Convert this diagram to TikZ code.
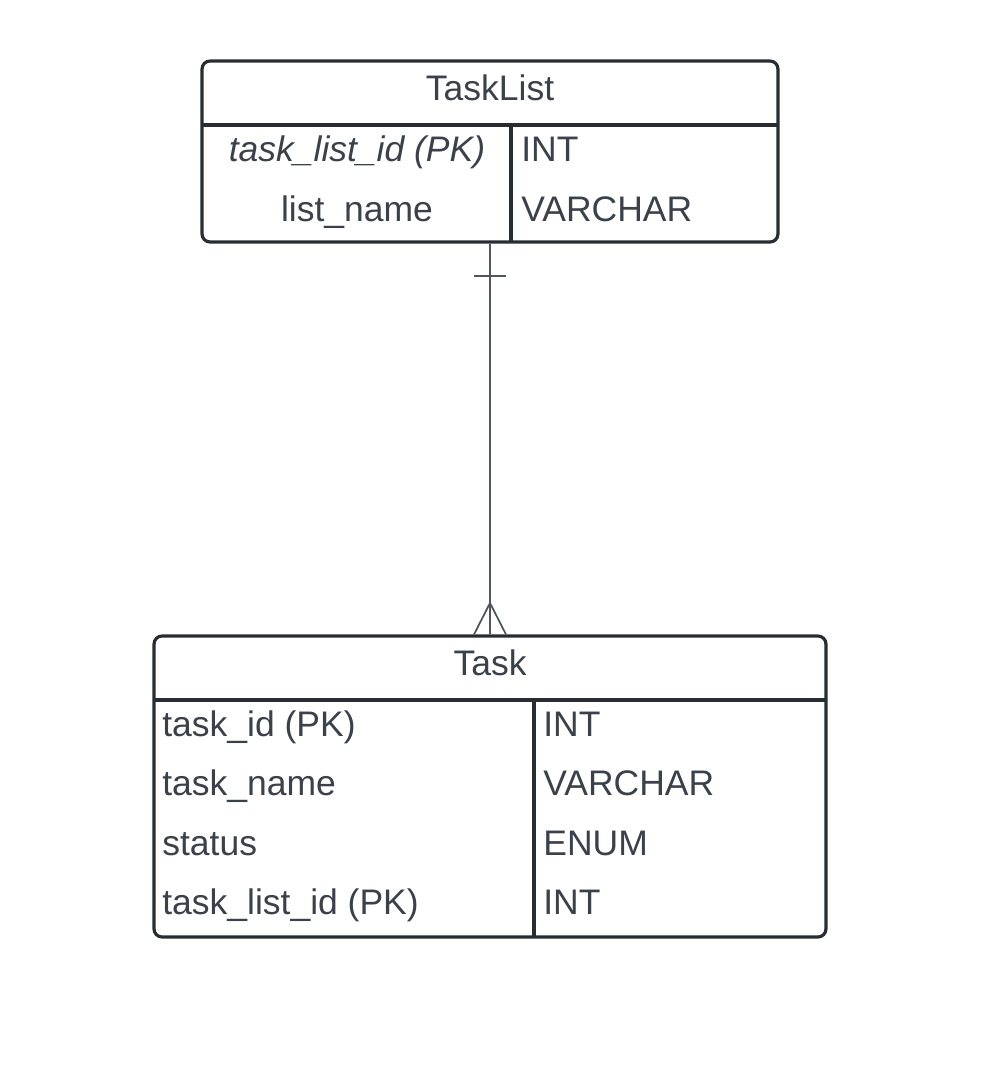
\documentclass[tikz,border=0pt]{standalone}
\usepackage{fontspec}
\setmainfont{Liberation Sans}
\usetikzlibrary{positioning}
\definecolor{boxline}{HTML}{282C33}
\definecolor{txt}{HTML}{3A414A}
\definecolor{relline}{HTML}{50565E}

\tikzset{
  entity/.style={draw=boxline, line width=1.8pt, rounded corners=4.5pt, inner sep=0pt},
  sep/.style={boxline, line width=1.9pt},
  rel/.style={relline, line width=1pt},
  field/.style={text=txt, font=\fontsize{20.2}{24}\selectfont, inner sep=0pt}
}

\begin{document}
\begin{tikzpicture}[x=0.02cm, y=-0.02cm]
    \useasboundingbox (0,0) rectangle (984,1086);
    % entity TaskList
    \node[entity, minimum width=11.52cm, minimum height=3.62cm] (tasklist) at (490,151.5) {};
    \draw[sep] (202,125) -- (778,125);
    \draw[sep] (511,125) -- (511,242);
    \node[field, anchor=base] (tlhead) at (490,100) {TaskList};
    \node[field, anchor=base] (tlid) at (357,161) {\itshape task\_list\_id (PK)};
    \node[field, anchor=base] (tlname) at (357,221) {list\_name};
    \node[field, anchor=base west] (tlidtype) at (521,161) {INT};
    \node[field, anchor=base west] (tlnametype) at (521,221) {VARCHAR};
    % entity Task
    \node[entity, minimum width=13.44cm, minimum height=6.02cm] (task) at (490,786.5) {};
    \draw[sep] (154,700) -- (826,700);
    \draw[sep] (534,700) -- (534,937);
    \node[field, anchor=base] (thead) at (490,675) {Task};
    \node[field, anchor=base west] (tid) at (162,736) {task\_id (PK)};
    \node[field, anchor=base west] (tname) at (162,795.5) {task\_name};
    \node[field, anchor=base west] (tstatus) at (162,855) {status};
    \node[field, anchor=base west] (tlistid) at (162,914.5) {task\_list\_id (PK)};
    \node[field, anchor=base west] (tidtype) at (543,736) {INT};
    \node[field, anchor=base west] (tnametype) at (543,795.5) {VARCHAR};
    \node[field, anchor=base west] (tstatustype) at (543,855) {ENUM};
    \node[field, anchor=base west] (tlistidtype) at (543,914.5) {INT};
    % one to many relation
    \draw[rel] (tasklist.south) -- (task.north);
    \coordinate (onebar) at (490,276);
    \draw[rel] ([xshift=-0.32cm]onebar) -- ([xshift=0.32cm]onebar);
    \coordinate (crow) at (490,603);
    \draw[rel] ([xshift=-0.32cm]task.north) -- (crow) -- ([xshift=0.32cm]task.north);
\end{tikzpicture}
\end{document}
